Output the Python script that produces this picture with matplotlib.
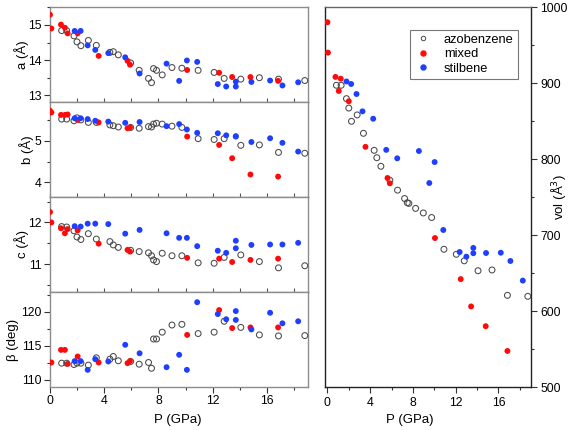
import matplotlib
matplotlib.use("Agg")
import matplotlib.pyplot as plt
from matplotlib.ticker import MultipleLocator
from matplotlib.lines import Line2D

plt.rcParams['font.family'] = ['Liberation Sans', 'DejaVu Sans']

# ---------------- data ----------------
# azobenzene (open circles) - lattice parameters
P_azo = [0.86, 1.23, 1.77, 1.99, 2.28, 2.83, 3.42, 4.42, 4.67, 5.04, 5.95, 6.58, 7.27,
         7.49, 7.64, 7.86, 8.28, 9.0, 9.73, 10.93, 12.11, 12.85, 14.08, 15.45, 16.86, 18.8]
a_azo = [14.84, 14.84, 14.69, 14.52, 14.41, 14.56, 14.42, 14.22, 14.24, 14.15, 13.92, 13.71, 13.48,
         13.36, 13.76, 13.71, 13.58, 13.79, 13.77, 13.71, 13.65, 13.48, 13.46, 13.5, 13.46, 13.42]
b_azo = [5.52, 5.52, 5.48, 5.55, 5.5, 5.44, 5.44, 5.38, 5.36, 5.33, 5.32, 5.3, 5.34,
         5.33, 5.4, 5.42, 5.4, 5.35, 5.32, 5.05, 5.03, 5.05, 4.89, 4.9, 4.72, 4.70]
c_azo = [11.9, 11.89, 11.8, 11.65, 11.59, 11.73, 11.6, 11.54, 11.46, 11.4, 11.33, 11.3, 11.27,
         11.2, 11.1, 11.06, 11.26, 11.2, 11.2, 11.03, 11.02, 11.16, 11.22, 11.06, 10.91, 10.96]
beta_azo = [112.45, 112.45, 112.25, 112.45, 112.45, 112.16, 113.24, 113.04, 113.43, 112.8, 112.7, 112.3, 112.55,
            111.7, 116.0, 116.0, 117.0, 118.05, 118.15, 116.8, 117.0, 118.6, 117.7, 116.6, 116.45, 116.5]

# mixed (red)
P_mix = [0.0, 0.1, 0.81, 1.1, 1.3, 2.04, 3.59, 5.72, 5.9, 10.12, 12.48, 13.44, 14.79, 16.83]
a_mix = [15.29, 14.9, 15.01, 14.92, 14.76, 14.76, 14.12, 13.98, 13.87, 13.72, 13.64, 13.52, 13.52, 13.41]
b_mix = [5.72, 5.68, 5.62, 5.62, 5.63, 5.5, 5.44, 5.3, 5.32, 5.1, 4.9, 4.58, 4.19, 4.14]
c_mix = [12.25, 12.0, 11.86, 11.74, 11.84, 11.81, 11.49, 11.34, 11.3, 11.15, 11.13, 11.05, 11.1, 11.13]
beta_mix = [112.55, 112.55, 114.4, 114.4, 112.35, 113.43, 112.55, 112.45, 112.75, 116.6, 120.25, 117.6, 117.7, 117.7]

# stilbene (blue)
P_sti = [1.82, 2.26, 2.78, 3.34, 4.3, 5.55, 6.61, 8.6, 9.53, 10.1, 10.86, 12.38, 13.0,
         13.71, 13.71, 14.86, 16.24, 17.15, 18.31]
a_sti = [14.83, 14.83, 14.42, 14.29, 14.2, 14.08, 13.62, 13.9, 13.41, 13.99, 13.95, 13.32, 13.25,
         13.39, 13.25, 13.38, 13.42, 13.28, 13.37]
b_sti = [5.54, 5.54, 5.52, 5.48, 5.46, 5.43, 5.45, 5.35, 5.4, 5.27, 5.19, 5.18, 5.13,
         5.1, 5.11, 4.97, 5.06, 4.95, 4.74]
c_sti = [11.91, 11.9, 11.97, 11.97, 11.96, 11.73, 11.82, 11.74, 11.63, 11.63, 11.43, 11.32, 11.27,
         11.56, 11.38, 11.46, 11.47, 11.47, 11.51]
beta_sti = [112.75, 112.75, 111.47, 113.04, 112.7, 115.15, 113.9, 111.86, 113.68, 111.47, 121.4, 119.66, 118.9,
            120.1, 118.8, 117.4, 119.85, 118.3, 118.6]

# volumes
P_vol_azo = [0.84, 1.28, 1.78, 2.0, 2.25, 2.78, 3.37, 4.37, 4.62, 5.0, 5.84, 6.56, 7.22,
             7.47, 7.62, 8.25, 8.97, 9.75, 10.9, 12.06, 12.8, 14.09, 15.4, 16.84, 18.75]
vol_azo = [897, 897, 879.4, 867, 849.6, 858, 833.8, 811.4, 801.7, 790.4, 772, 759, 748,
           742.5, 741.6, 735, 729, 723, 681.2, 674.6, 666, 653, 654, 620.6, 619.3]
P_vol_mix = [0.0, 0.05, 0.75, 1.06, 1.25, 2.0, 3.56, 5.62, 5.84, 10.06, 12.47, 13.44, 14.81, 16.84]
vol_mix = [980, 940, 908, 889.5, 905.7, 876, 816, 775, 768, 696, 642, 606, 580, 547.4]
P_vol_sti = [1.78, 2.22, 2.72, 3.28, 4.28, 5.5, 6.53, 8.56, 9.53, 10.03, 10.84, 12.37, 13.0,
             13.65, 13.65, 14.84, 16.22, 17.12, 18.28]
vol_sti = [902, 898.7, 885.5, 862.7, 853, 812, 800.9, 810.5, 768.4, 796, 706.6, 677.6, 671.5,
           683, 676, 676.3, 676.7, 665.8, 640]

series_labels = ["azobenzene", "mixed", "stilbene"]
RED = "#ff0a0a"
BLUE = "#1f3fff"
OPEN = "#4a4a4a"

# ---------------- figure ----------------
W, H = 568, 430
fig = plt.figure(figsize=(W / 100, H / 100), dpi=100)

def fx(px):
    return px / W

def fy(py):
    return 1 - py / H

top, bottom = 7, 387
ph = (bottom - top) / 4
lx0, lx1 = 50, 307.5
rx0, rx1 = 325.3, 530.5

panels = [
    ("a (Å)", a_azo, a_mix, a_sti, (12.81, 15.51), 1, 0.5, 22),
    ("b (Å)", b_azo, b_mix, b_sti, (3.65, 5.93), 1, 0.5, 27),
    ("c (Å)", c_azo, c_mix, c_sti, (10.33, 12.61), 1, 0.5, 22),
    ("β (deg)", beta_azo, beta_mix, beta_sti, (108.95, 122.9), 5, 2.5, 13),
]

ms = 18
fs = 8.8
for i, (lab, ya, ym, ys, ylim, maj, mnr, labx) in enumerate(panels):
    y0 = top + i * ph
    ax = fig.add_axes([fx(lx0), fy(y0 + ph), fx(lx1 - lx0), ph / H])
    ax.scatter(P_azo, ya, s=ms, facecolors="none", edgecolors=OPEN, linewidths=0.75, zorder=3, clip_on=False)
    ax.scatter(P_mix, ym, s=ms, color=RED, edgecolors="none", zorder=3)
    ax.scatter(P_sti, ys, s=ms, color=BLUE, edgecolors="none", zorder=3)
    ax.set_xlim(0, 19.0)
    ax.set_ylim(*ylim)
    ax.yaxis.set_major_locator(MultipleLocator(maj))
    ax.yaxis.set_minor_locator(MultipleLocator(mnr))
    ax.xaxis.set_major_locator(MultipleLocator(4))
    ax.xaxis.set_minor_locator(MultipleLocator(2))
    for sp in ax.spines.values():
        sp.set_color("#8c8c8c")
        sp.set_linewidth(1.0)
    ax.tick_params(axis="y", which="major", direction="out", length=4, width=0.8,
                   labelsize=fs, colors="#333333", labelcolor="black", pad=2)
    ax.tick_params(axis="y", which="minor", direction="out", length=2.5, width=0.8, colors="#333333")
    if i < 3:
        ax.tick_params(axis="x", which="both", direction="in", length=3, width=0.8,
                       labelbottom=False, colors="#555555")
    else:
        ax.tick_params(axis="x", which="major", direction="out", length=4, width=0.8,
                       labelsize=fs, colors="#333333", labelcolor="black", pad=2)
        ax.tick_params(axis="x", which="minor", direction="out", length=2.5, width=0.8, colors="#333333")
    fig.text(fx(labx), fy(y0 + ph / 2), lab, rotation=90, ha="center", va="center", fontsize=fs + 0.7)

fig.text(fx(178), fy(420), "P (GPa)", ha="center", va="center", fontsize=fs + 0.7)

# right panel
axr = fig.add_axes([fx(rx0), fy(bottom), fx(rx1 - rx0), (bottom - top) / H])
axr.scatter(P_vol_azo, vol_azo, s=ms, facecolors="none", edgecolors=OPEN, linewidths=0.75, zorder=3, clip_on=False)
axr.scatter(P_vol_mix, vol_mix, s=ms, color=RED, edgecolors="none", zorder=3)
axr.scatter(P_vol_sti, vol_sti, s=ms, color=BLUE, edgecolors="none", zorder=3)
axr.set_xlim(-0.2, 19.0)
axr.set_ylim(500, 1000)
axr.yaxis.set_major_locator(MultipleLocator(100))
axr.yaxis.set_minor_locator(MultipleLocator(50))
axr.xaxis.set_major_locator(MultipleLocator(4))
axr.xaxis.set_minor_locator(MultipleLocator(2))
axr.yaxis.tick_right()
for name, sp in axr.spines.items():
    sp.set_color("#222222" if name != "top" else "#666666")
    sp.set_linewidth(1.0)
axr.tick_params(axis="both", which="major", direction="out", length=4, width=0.8,
                labelsize=fs, colors="#333333", labelcolor="black", pad=3)
axr.tick_params(axis="both", which="minor", direction="out", length=2.5, width=0.8, colors="#333333")
fig.text(fx(410), fy(420), "P (GPa)", ha="center", va="center", fontsize=fs + 0.7)
fig.text(fx(559), fy(197), "vol (Å$^3$)", rotation=90, ha="center", va="center", fontsize=fs + 0.7)

handles = [
    Line2D([], [], ls="none", marker="o", markersize=3.2, markerfacecolor="none",
           markeredgecolor=OPEN, markeredgewidth=0.7),
    Line2D([], [], ls="none", marker="o", markersize=3.6, color=RED),
    Line2D([], [], ls="none", marker="o", markersize=3.6, color=BLUE),
]
leg = axr.legend(handles, series_labels, loc="upper right", bbox_to_anchor=(0.937, 0.94),
                 fontsize=fs + 0.5, frameon=True, fancybox=False, framealpha=1,
                 edgecolor="#777777", borderpad=0.3, labelspacing=0.2,
                 handlelength=1.4, handletextpad=0.9, borderaxespad=0)
leg.get_frame().set_linewidth(0.8)

fig.savefig("out.png", dpi=100)
